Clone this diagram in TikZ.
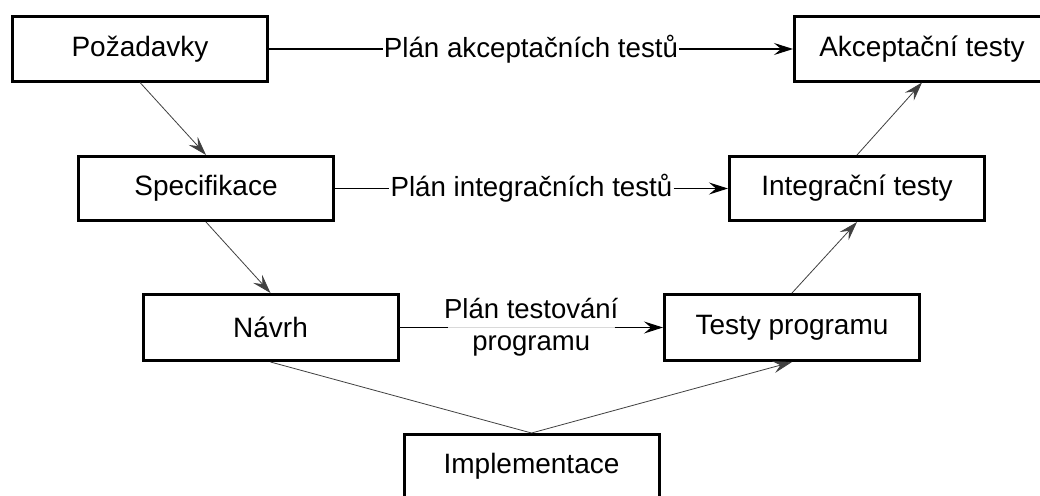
\documentclass[tikz,border=0pt]{standalone}
\usepackage{fontspec}
\setmainfont{Liberation Sans}
\usetikzlibrary{arrows.meta,calc}
\begin{document}
\begin{tikzpicture}[x=1pt,y=-1pt,
  phase/.style={draw, line width=3pt, minimum width=255pt, minimum height=64pt,
    inner sep=0pt, font=\fontsize{28}{32}\selectfont},
  plan/.style={font=\fontsize{27.7}{32}\selectfont, inner sep=1pt},
  plantwo/.style={font=\fontsize{27.5}{32}\selectfont, inner sep=1pt, align=center},
  tip/.style={-{Stealth[length=19pt,width=12pt,inset=7pt]}},
  hline/.style={line width=1.1pt},
  vline/.style={line width=0.8pt, black!75}]
\useasboundingbox (0,0) rectangle (1040,495);
\clip (0,0) rectangle (1040,495);
\fill[white] (0,0) rectangle (1040,495);

% phases of the V model
\node[phase] (poz)   at (140,49)    {Požadavky};
\node[phase] (akc)   at (922,49)    {Akceptační testy};
\node[phase] (spec)  at (206,188.5) {Specifikace};
\node[phase] (integ) at (857,188.5) {Integrační testy};
\node[phase, minimum height=66pt] (navrh) at (270.5,327.5) {Návrh};
\node[phase, minimum height=66pt] (testy) at (792,327.5)   {Testy programu};
\node[phase] (impl)  at (531.5,466.5) {Implementace};

% test plans
\node[plan] (pa) at ($(poz.east)!0.5!(akc.west)$) {Plán akceptačních testů};
\draw[hline] (poz.east) -- (pa.west);
\draw[hline, tip] (pa.east) -- (akc.west);

\node[plan] (pi) at ($(spec.east)!0.5!(integ.west)$) {Plán integračních testů};
\draw[hline] (spec.east) -- (pi.west);
\draw[hline, tip] (pi.east) -- (integ.west);

\node[plantwo] (pt) at ($(navrh.east)!0.5!(testy.west)$) {Plán testování\\programu};
\draw[black!15, line width=1pt] (navrh.east) -- (testy.west);
\draw[hline] (navrh.east) -- ($(pt.west)+(5,0)$);
\draw[hline, tip] ($(pt.east)-(5,0)$) -- (testy.west);

% descending and ascending branches
\draw[vline, tip] (poz.south) -- (spec.north);
\draw[vline, tip] (spec.south) -- (navrh.north);
\draw[vline] (navrh.south) -- (impl.north);
\draw[vline, tip] (impl.north) -- (testy.south);
\draw[vline, tip] (testy.north) -- (integ.south);
\draw[vline, tip] (integ.north) -- (akc.south);
\end{tikzpicture}
\end{document}
